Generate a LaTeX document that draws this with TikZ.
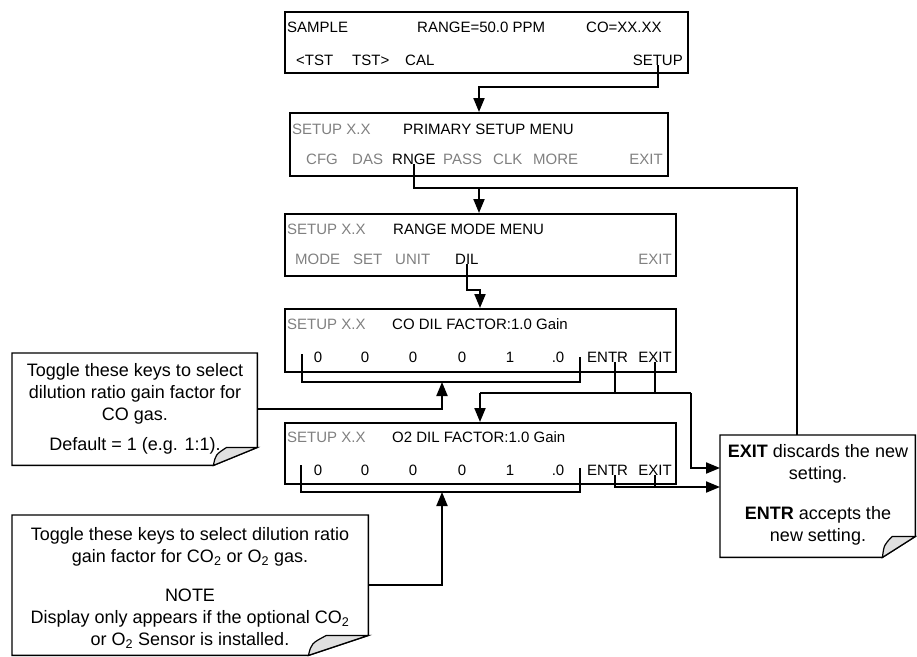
\documentclass[tikz,border=0pt]{standalone}
\usepackage{fontspec}
\setmainfont{Liberation Sans}
\usetikzlibrary{arrows.meta, positioning, calc}

% folded-corner note outline: #1 area node, #2 cut along bottom, #3 cut up the side
\newcommand{\notecurl}[3]{%
  \draw[line width=1.4pt, fill=white] (#1.north west) -- (#1.north east)
    -- ([yshift=#3pt]#1.south east) -- ([xshift=-#2pt]#1.south east)
    -- (#1.south west) -- cycle;
  \draw[line width=1.2pt, fill=black!12] ([xshift=-#2pt]#1.south east)
    .. controls ([xshift={-0.95*#2}, yshift={0.6*#3}]#1.south east) .. ([xshift={-0.7*#2}, yshift=#3pt]#1.south east)
    -- ([yshift=#3pt]#1.south east) -- cycle;
}

\begin{document}
\begin{tikzpicture}[
    x=1pt, y=-1pt,
    >={Triangle[length=14pt,width=11pt]},
    screen/.style={draw, line width=2.2pt, inner sep=0pt, anchor=north west},
    key/.style={font=\fontsize{15}{18}\selectfont, inner sep=0pt, anchor=base west},
    dim/.style={key, text=black!50},
    wire/.style={line width=2pt},
    flow/.style={wire, ->},
    notearea/.style={inner sep=0pt, anchor=north west},
    hint/.style={font=\fontsize{18}{22}\selectfont, align=center, inner sep=0pt, anchor=north}
]
\useasboundingbox (0,0) rectangle (917,656);

% ---- SAMPLE display ----
\node[screen, minimum width=403pt, minimum height=61pt] (sample) at (284,11) {};
\node[key] (samplet) at (287,32) {SAMPLE};
\node[key] (ranget) at (417,32) {RANGE=50.0 PPM};
\node[key] (cot) at (586,32) {CO=XX.XX};
\node[key] (tstl) at (296,65) {<TST};
\node[key] (tstr) at (352,65) {TST>};
\node[key] (cal) at (405,65) {CAL};
\node[key, anchor=base east] (setupkey) at (683,65) {SETUP};

% ---- primary setup menu ----
\node[screen, minimum width=378pt, minimum height=63pt] (primary) at (289,112) {};
\node[dim] (psetup) at (292,134) {SETUP X.X};
\node[key] (ptitle) at (403,134) {PRIMARY SETUP MENU};
\node[dim] (cfg) at (306,164) {CFG};
\node[dim] (das) at (352,164) {DAS};
\node[key] (rnge) at (392,164) {RNGE};
\node[dim] (pass) at (443,164) {PASS};
\node[dim] (clk) at (493,164) {CLK};
\node[dim] (more) at (533,164) {MORE};
\node[dim, anchor=base east] (pexit) at (663,164) {EXIT};

% ---- range mode menu ----
\node[screen, minimum width=391pt, minimum height=62pt] (rangemenu) at (284,213) {};
\node[dim] (rsetup) at (287,234) {SETUP X.X};
\node[key] (rtitle) at (393,234) {RANGE MODE MENU};
\node[dim] (mode) at (295,264) {MODE};
\node[dim] (set) at (353,264) {SET};
\node[dim] (unit) at (395,264) {UNIT};
\node[key] (dil) at (455,264) {DIL};
\node[dim, anchor=base east] (rexit) at (672,264) {EXIT};

% ---- CO dilution factor ----
\node[screen, minimum width=391pt, minimum height=63pt] (codil) at (284,308) {};
\node[dim] (csetup) at (287,329) {SETUP X.X};
\node[key] (ctitle) at (392,329) {CO DIL FACTOR:1.0 Gain};
\foreach \d/\x [count=\i] in {0/318,0/365,0/413,0/462,1/510,.0/558}
  \node[key, anchor=base] (codig\i) at (\x,362) {\d};
\node[key] (coentr) at (587,362) {ENTR};
\node[key, anchor=base east] (coexit) at (672,362) {EXIT};

% ---- O2 dilution factor ----
\node[screen, minimum width=391pt, minimum height=61pt] (o2dil) at (284,422) {};
\node[dim] (osetup) at (287,442) {SETUP X.X};
\node[key] (otitle) at (392,442) {O2 DIL FACTOR:1.0 Gain};
\foreach \d/\x [count=\i] in {0/318,0/365,0/413,0/462,1/510,.0/558}
  \node[key, anchor=base] (o2dig\i) at (\x,475) {\d};
\node[key] (o2entr) at (587,475) {ENTR};
\node[key, anchor=base east] (o2exit) at (672,475) {EXIT};

% ---- notes ----
\node[notearea, minimum width=245pt, minimum height=112pt] (coarea) at (12,353) {};
\notecurl{coarea}{44}{18}
\node[hint] (cotext) at (135,363) {Toggle these keys to select\\dilution ratio gain factor for\\CO gas.\\[8pt]Default = 1 (e.g. 1:1).};

\node[notearea, minimum width=356pt, minimum height=140pt] (o2area) at (12,515) {};
\notecurl{o2area}{60}{20}
\node[hint] (o2text) at (190,527) {Toggle these keys to select dilution ratio\\gain factor for CO\textsubscript{2} or O\textsubscript{2} gas.\\[17pt]NOTE\\Display only appears if the optional CO\textsubscript{2}\\or O\textsubscript{2} Sensor is installed.};

\node[notearea, minimum width=195pt, minimum height=122pt] (exitarea) at (720,435) {};
\notecurl{exitarea}{33}{21}
\node[hint] (exittext) at (818,444) {\textbf{EXIT} discards the new\\setting.\\[18pt]\textbf{ENTR} accepts the\\new setting.};

% ---- connectors ----
\coordinate (sudrop) at (479,87);
\draw[flow] (setupkey.south) |- (sudrop) -- (sudrop |- primary.north);

\coordinate (rgturn) at (797,188);
\coordinate (rgdrop) at (479,188);
\draw[wire] (rnge.south) |- (rgturn) -- (rgturn |- exitarea.north);
\draw[flow] (rgdrop) -- (rgdrop |- rangemenu.north);

\coordinate (dldrop) at (480,290);
\draw[flow] (dil.south) |- (dldrop) -- (dldrop |- codil.north);

% digit brackets
\coordinate (cobrL) at (302,382);
\coordinate (cobrR) at (580,382);
\coordinate (cohit) at (442,382);
\draw[wire] ([yshift=28pt]cobrL) -- (cobrL) -- (cobrR) -- ([yshift=25pt]cobrR);
\draw[flow] (coarea.east) -| (cohit);

\coordinate (o2brL) at (301,492);
\coordinate (o2brR) at (580,492);
\coordinate (o2hit) at (442,492);
\draw[wire] ([yshift=27pt]o2brL) -- (o2brL) -- (o2brR) -- ([yshift=24pt]o2brR);
\draw[flow] (o2area.east) -| (o2hit);

% ENTR / EXIT
\coordinate (cosplitL) at (480,393);
\coordinate (cosplitR) at (691,393);
\coordinate (exithiA) at (720,468);
\coordinate (exithiB) at (720,487);
\draw[wire] ([xshift=7pt]coentr.south) -- ([xshift=7pt]coentr.south |- cosplitL);
\draw[wire] (coexit.south) -- (coexit.south |- cosplitL);
\draw[wire] (cosplitL) -- (cosplitR);
\draw[flow] (cosplitL) -- (cosplitL |- o2dil.north);
\draw[flow] (cosplitR) |- (exithiA);
\draw[flow] ([xshift=7pt]o2entr.south) |- (exithiB);
\draw[wire] (o2exit.south) -- (o2exit.south |- exithiB);

\end{tikzpicture}
\end{document}
